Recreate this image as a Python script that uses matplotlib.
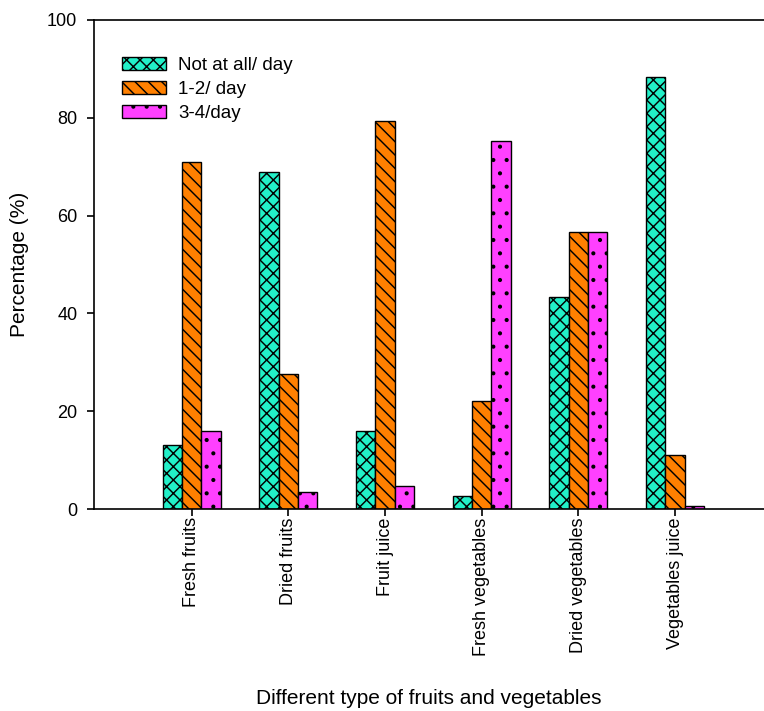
import numpy as np, matplotlib
matplotlib.use("Agg")
import matplotlib.pyplot as plt

# render at 80 dpi so hatch spacing matches the original; K rescales point sizes
DPI = 80; K = 100 / DPI
plt.rcParams.update({"font.family": ["Liberation Sans", "DejaVu Sans"], "font.size": 13 * K,
                     "hatch.linewidth": 1.3, "axes.linewidth": 1.2 * K})

categories = ["Fresh fruits", "Dried fruits", "Fruit juice", "Fresh vegetables",
              "Dried vegetables", "Vegetables juice"]
not_at_all = [13.1, 68.9, 15.9, 2.7, 43.3, 88.3]
one_two = [71.0, 27.6, 79.3, 22.1, 56.6, 11.0]
three_four = [16.0, 3.4, 4.7, 75.3, 56.6, 0.6]
series = [("Not at all/ day", not_at_all, "#22F0C8", "xx"),
          ("1-2/ day", one_two, "#FF8000", "\\\\"),
          ("3-4/day", three_four, "#FF40FF", ".")]

fig = plt.figure(figsize=(764 / DPI, 711 / DPI), dpi=DPI)
ax = fig.add_axes([94 / 764, 1 - 509 / 711, 670 / 764, 489 / 711])
x = np.arange(len(categories)); w = 0.2
for i, (lab, vals, col, h) in enumerate(series):
    ax.bar(x + (i - 1) * w, vals, w, color=col, edgecolor="black", lw=1.0 * K, hatch=h, label=lab)

ax.set_xlim(-1.01, 5.92); ax.set_ylim(0, 100)
ax.set_yticks(range(0, 101, 20))
ax.set_xticks(x); ax.set_xticklabels(categories, rotation=90, fontsize=13 * K)
ax.tick_params(direction="out", length=5 * K, width=1.2 * K)
ax.tick_params(axis="y", pad=7 * K)
ax.tick_params(axis="x", pad=1 * K)
ax.spines["right"].set_visible(False)
ax.set_ylabel("Percentage (%)", fontsize=15 * K, labelpad=13 * K)
ax.set_xlabel("Different type of fruits and vegetables", fontsize=15 * K, labelpad=24 * K)
ax.legend(loc="upper left", bbox_to_anchor=(0.042, 0.925), frameon=False, borderpad=0,
          borderaxespad=0, handlelength=2.35, handleheight=0.75, handletextpad=0.65,
          labelspacing=0.35, fontsize=13.5 * K)
fig.savefig("out.png", dpi=DPI)
